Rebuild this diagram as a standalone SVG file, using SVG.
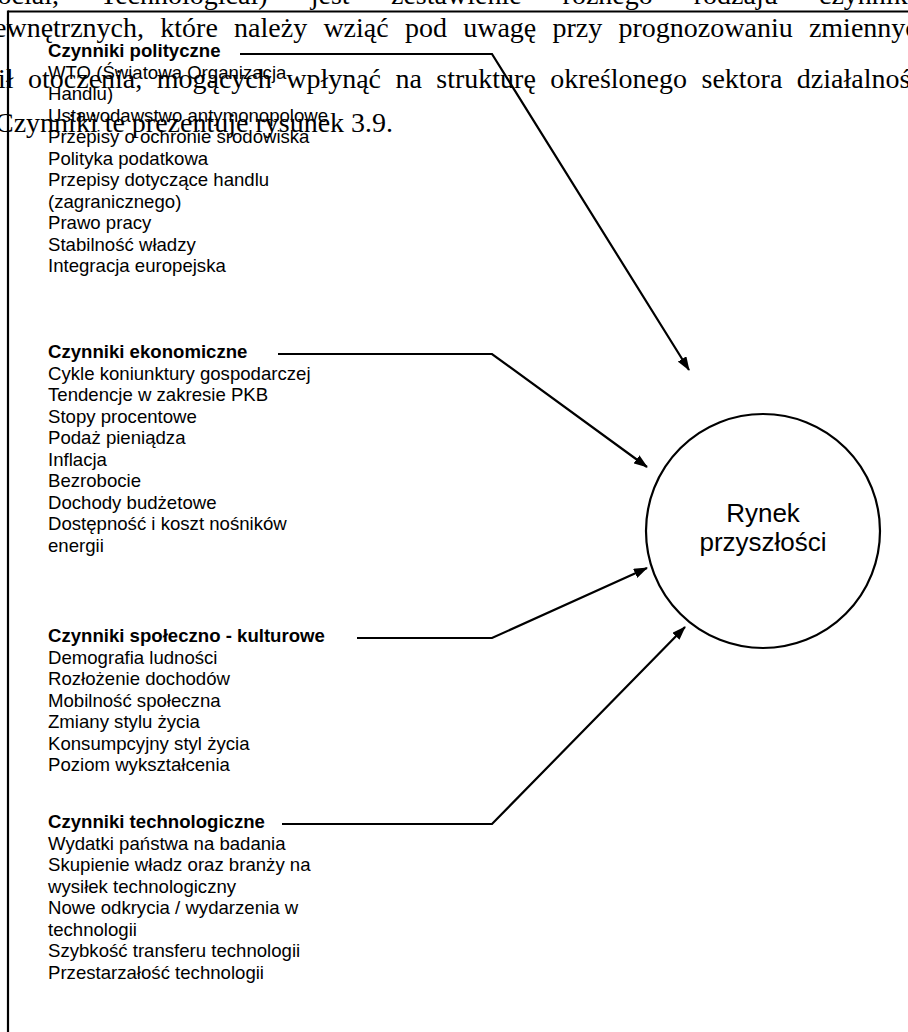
<svg xmlns="http://www.w3.org/2000/svg" width="908" height="1032" viewBox="0 0 908 1032">
  <style>
    .page { font-family: "Liberation Serif", "Times New Roman", serif; font-size: 28px; fill: #000; }
    .item { font-family: "Liberation Sans", Arial, sans-serif; font-size: 18.6px; fill: #000; }
    .head { font-weight: bold; }
    .label { font-family: "Liberation Sans", Arial, sans-serif; font-size: 26px; fill: #000; text-anchor: middle; }
    .frame { stroke: #000; stroke-width: 2.2; fill: none; }
    .link { stroke: #000; stroke-width: 2.2; fill: none; }
  </style>
  <defs>
    <marker id="arrow" viewBox="0 0 14 10" refX="13" refY="5" markerWidth="14" markerHeight="10" markerUnits="userSpaceOnUse" orient="auto">
      <path d="M0,0 L14,5 L0,10 z" fill="#000"/>
    </marker>
  </defs>
  <rect width="908" height="1032" fill="#fff"/>

  <!-- justified body text of the page running behind the figure -->
  <g id="page-text" class="page">
    <text y="4"><tspan x="-18">Social,</tspan><tspan x="100">Technological)</tspan><tspan x="310.7">jest</tspan><tspan x="391">zestawienie</tspan><tspan x="562.6">różnego</tspan><tspan x="693.8">rodzaju</tspan><tspan x="819">czynników</tspan></text>
    <text y="37"><tspan x="-6">ewnętrznych,</tspan><tspan x="160.3">które</tspan><tspan x="234.1">należy</tspan><tspan x="323.4">wziąć</tspan><tspan x="404.9">pod</tspan><tspan x="463.2">uwagę</tspan><tspan x="552.5">przy</tspan><tspan x="618.5">prognozowaniu</tspan><tspan x="808.9">zmiennych</tspan></text>
    <text y="88"><tspan x="-2">ił</tspan><tspan x="28">otoczenia,</tspan><tspan x="156.7">mogących</tspan><tspan x="286.2">wpłynąć</tspan><tspan x="395.5">na</tspan><tspan x="436.3">strukturę</tspan><tspan x="550.2">określonego</tspan><tspan x="701.5">sektora</tspan><tspan x="796.8">działalności</tspan></text>
    <text y="132" x="-5">Czynniki te prezentuje rysunek 3.9.</text>
  </g>

  <!-- figure frame -->
  <g id="frame">
    <line class="frame" x1="8" y1="11.5" x2="908" y2="11.5"/>
    <line class="frame" x1="8" y1="10.4" x2="8" y2="1032"/>
  </g>

  <g id="political" class="item">
    <text x="48" y="57" class="head">Czynniki polityczne</text>
    <text x="48" y="78.5">WTO (Światowa Organizacja</text>
    <text x="48" y="100">Handlu)</text>
    <text x="48" y="121.5">Ustawodawstwo antymonopolowe</text>
    <text x="48" y="143">Przepisy o ochronie środowiska</text>
    <text x="48" y="164.5">Polityka podatkowa</text>
    <text x="48" y="186">Przepisy dotyczące handlu</text>
    <text x="48" y="207.5">(zagranicznego)</text>
    <text x="48" y="229">Prawo pracy</text>
    <text x="48" y="250.5">Stabilność władzy</text>
    <text x="48" y="272">Integracja europejska</text>
  </g>

  <g id="economic" class="item">
    <text x="48" y="358" class="head">Czynniki ekonomiczne</text>
    <text x="48" y="379.5">Cykle koniunktury gospodarczej</text>
    <text x="48" y="401">Tendencje w zakresie PKB</text>
    <text x="48" y="422.5">Stopy procentowe</text>
    <text x="48" y="444">Podaż pieniądza</text>
    <text x="48" y="465.5">Inflacja</text>
    <text x="48" y="487">Bezrobocie</text>
    <text x="48" y="508.5">Dochody budżetowe</text>
    <text x="48" y="530">Dostępność i koszt nośników</text>
    <text x="48" y="551.5">energii</text>
  </g>

  <g id="social" class="item">
    <text x="48" y="642" class="head">Czynniki społeczno - kulturowe</text>
    <text x="48" y="663.5">Demografia ludności</text>
    <text x="48" y="685">Rozłożenie dochodów</text>
    <text x="48" y="706.5">Mobilność społeczna</text>
    <text x="48" y="728">Zmiany stylu życia</text>
    <text x="48" y="749.5">Konsumpcyjny styl życia</text>
    <text x="48" y="771">Poziom wykształcenia</text>
  </g>

  <g id="technological" class="item">
    <text x="48" y="828" class="head">Czynniki technologiczne</text>
    <text x="48" y="849.5">Wydatki państwa na badania</text>
    <text x="48" y="871">Skupienie władz oraz branży na</text>
    <text x="48" y="892.5">wysiłek technologiczny</text>
    <text x="48" y="914">Nowe odkrycia / wydarzenia w</text>
    <text x="48" y="935.5">technologii</text>
    <text x="48" y="957">Szybkość transferu technologii</text>
    <text x="48" y="978.5">Przestarzałość technologii</text>
  </g>

  <g id="market">
    <circle cx="763" cy="531" r="117" fill="#fff" stroke="#000" stroke-width="2.2"/>
    <text class="label" x="763" y="522">Rynek</text>
    <text class="label" x="763" y="551">przyszłości</text>
  </g>

  <g id="connectors">
    <path class="link" d="M240,54 H492 L689,370" marker-end="url(#arrow)"/>
    <path class="link" d="M278,354 H492 L647,467" marker-end="url(#arrow)"/>
    <path class="link" d="M357,638 H492 L647,568" marker-end="url(#arrow)"/>
    <path class="link" d="M282,824 H492 L685,627" marker-end="url(#arrow)"/>
  </g>
</svg>
